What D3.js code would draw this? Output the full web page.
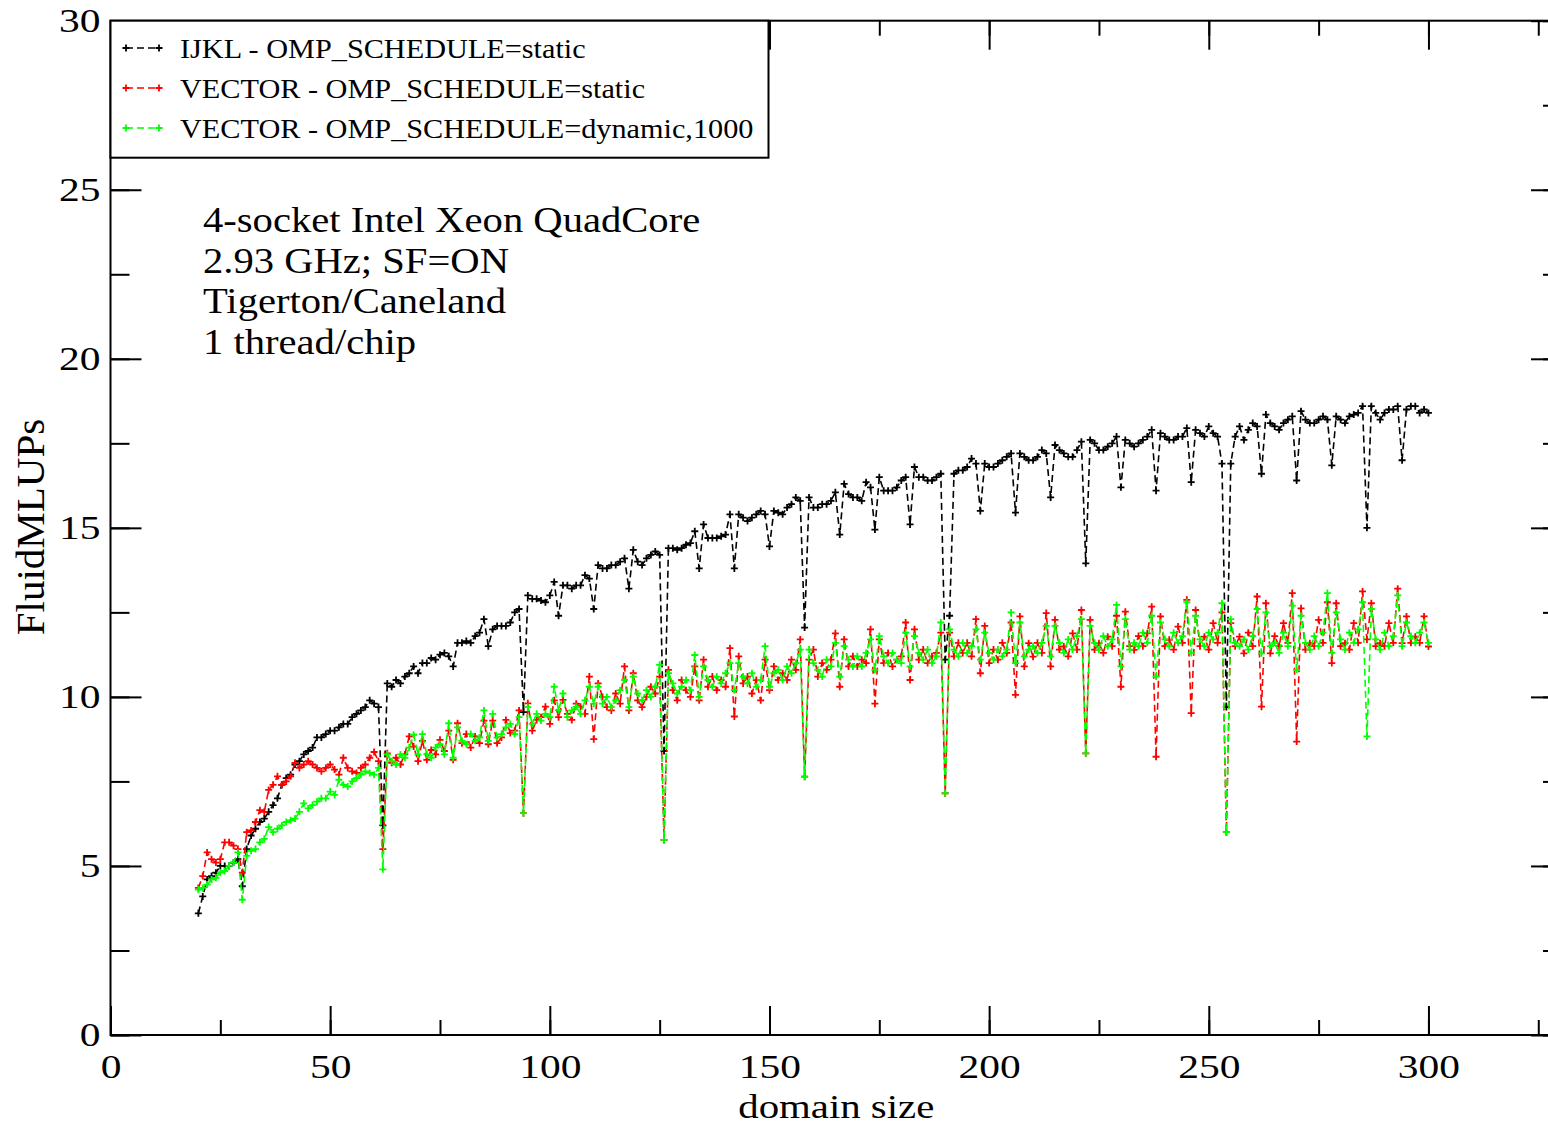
<!DOCTYPE html>
<html>
<head>
<meta charset="utf-8">
<script src="https://cdn.jsdelivr.net/npm/d3@7"></script>
<style>
  body { margin: 0; background: #fff; }
  svg { display: block; }
  text { font-family: "Liberation Serif", "Times New Roman", serif; fill: #000; }
</style>
</head>
<body>
<svg id="chart" width="1548" height="1126"></svg>
<script>
// domain sizes run over every integer from 20 to 300
const domainSizes = d3.range(20, 301);

const ijklStatic = [
  3.6, 4.1, 4.6, 4.7, 4.8, 5.0, 5.0, 5.0, 5.1, 5.2,
  4.4, 5.5, 5.9, 6.1, 6.3, 6.4, 6.6, 6.8, 7.0, 7.4,
  7.6, 7.7, 8.0, 8.1, 8.3, 8.4, 8.5, 8.8, 8.8, 8.9,
  9.0, 9.0, 9.1, 9.2, 9.2, 9.4, 9.5, 9.6, 9.7, 9.9,
  9.8, 9.7, 6.2, 10.4, 10.3, 10.5, 10.4, 10.6, 10.7, 10.9,
  10.7, 11.0, 11.0, 11.15, 11.1, 11.25, 11.3, 11.2, 10.9, 11.6,
  11.6, 11.65, 11.6, 11.8, 11.9, 12.3, 11.5, 12.0, 12.1, 12.1,
  12.1, 12.2, 12.5, 12.6, 9.55, 13.0, 12.9, 12.9, 12.85, 12.8,
  13.0, 13.4, 12.4, 13.3, 13.3, 13.2, 13.3, 13.3, 13.6, 13.5,
  12.6, 13.9, 13.8, 13.8, 13.9, 13.9, 14.0, 14.1, 13.2, 14.35,
  14.0, 13.9, 14.1, 14.2, 14.3, 14.2, 8.4, 14.4, 14.4, 14.35,
  14.4, 14.5, 14.55, 14.9, 13.8, 15.1, 14.7, 14.7, 14.7, 14.75,
  14.8, 15.4, 13.8, 15.4, 15.3, 15.2, 15.3, 15.4, 15.5, 15.4,
  14.45, 15.5, 15.45, 15.4, 15.6, 15.7, 15.9, 15.8, 12.05, 15.9,
  15.6, 15.6, 15.7, 15.7, 15.8, 16.05, 14.8, 16.3, 16.0, 15.9,
  15.9, 15.8, 16.35, 16.2, 14.95, 16.5, 16.1, 16.1, 16.1, 16.2,
  16.4, 16.5, 15.1, 16.8, 16.5, 16.5, 16.4, 16.4, 16.5, 16.6,
  11.1, 12.4, 16.6, 16.7, 16.7, 16.8, 17.05, 16.9, 15.5, 16.9,
  16.8, 16.8, 16.9, 17.0, 17.1, 17.2, 15.45, 17.2, 17.1, 17.0,
  17.0, 17.1, 17.3, 17.2, 15.9, 17.45, 17.3, 17.2, 17.1, 17.1,
  17.3, 17.55, 13.95, 17.6, 17.5, 17.3, 17.3, 17.4, 17.5, 17.7,
  16.2, 17.6, 17.5, 17.4, 17.5, 17.6, 17.7, 17.9, 16.1, 17.8,
  17.7, 17.6, 17.6, 17.7, 17.7, 17.95, 16.35, 17.9, 17.8, 17.7,
  18.0, 17.8, 17.7, 16.9, 9.7, 16.9, 17.7, 18.0, 17.6, 17.9,
  18.1, 18.0, 16.6, 18.35, 18.1, 18.0, 17.9, 18.1, 18.2, 18.3,
  16.4, 18.45, 18.2, 18.1, 18.1, 18.2, 18.3, 18.2, 16.85, 18.3,
  18.2, 18.1, 18.3, 18.35, 18.4, 18.6, 15.0, 18.6, 18.4, 18.2,
  18.4, 18.5, 18.5, 18.6, 17.0, 18.5, 18.6, 18.6, 18.4, 18.5,
  18.4
];

const vectorStatic = [
  4.35, 4.7, 5.4, 5.2, 5.1, 5.2, 5.7, 5.7, 5.6, 5.5,
  4.8, 6.0, 6.05, 6.3, 6.65, 6.6, 7.25, 7.4, 7.65, 7.4,
  7.5, 7.65, 8.05, 7.9, 8.0, 8.1, 8.0, 7.9, 7.8, 7.9,
  8.0, 7.85, 7.7, 8.2, 7.9, 7.8, 7.75, 7.9, 8.0, 8.2,
  8.37, 8.1, 5.5,
  8.33, 8.05, 8.2, 8.0, 8.3, 8.83, 8.53, 8.1,       // 63
  8.7, 8.14, 8.43, 8.3, 8.73, 8.4, 9.0, 8.14,
  9.22, 8.63, 8.9, 8.5, 8.83, 8.63, 9.3, 8.6,
  9.3, 8.63, 8.8, 9.32, 8.93, 9.0, 9.6, 6.56,
  9.81, 9.0, 9.32, 9.4, 9.71, 9.2, 9.9, 9.4,        // 95
  9.91, 9.5, 9.32, 9.8, 9.71, 9.5, 10.6, 8.75,
  10.4, 10.0, 9.7, 9.6, 10.1, 9.8, 10.9, 9.6,
  10.7, 9.9, 9.7, 10.0, 10.3, 10.1, 10.6, 5.77,
  10.8, 10.2, 9.9, 10.5, 10.2, 10.0, 10.9, 9.9,     // 127
  11.1, 10.3, 10.6, 10.2, 10.5, 10.3, 11.44, 9.42,
  11.2, 10.4, 10.6, 10.1, 10.5, 9.9, 11.1, 10.2,
  10.9, 10.5, 10.7, 10.5, 11.1, 10.8, 11.7, 7.64,
  11.1, 11.4, 10.6, 11.0, 10.8, 11.1, 11.88, 10.3,  // 159
  11.7, 10.9, 11.2, 10.9, 11.1, 11.0, 12.0, 9.8,
  11.7, 11.0, 11.3, 10.9, 11.1, 11.2, 12.2, 10.5,
  12.0, 11.1, 11.4, 11.0, 11.2, 11.3, 11.9, 7.15,
  11.9, 11.2, 11.6, 11.3, 11.6, 11.2, 12.3, 10.7,   // 191
  12.1, 11.0, 11.4, 11.1, 11.6, 11.3, 12.2, 10.06,
  12.38, 10.9, 11.59, 11.19, 11.6, 11.3, 12.48, 10.9,
  12.28, 11.4, 11.49, 11.2, 11.88, 11.4, 12.57, 8.33,
  12.28, 11.4, 11.59, 11.3, 11.78, 11.5, 12.4, 10.3, // 223
  12.52, 11.5, 11.39, 11.8, 11.5, 11.88, 12.67, 8.23,
  12.38, 11.5, 11.69, 11.4, 12.08, 11.6, 12.87, 9.52,
  12.57, 11.5, 11.78, 11.4, 12.18, 11.6, 12.5, 6.0,
  12.18, 11.5, 11.78, 11.29, 11.9, 11.5, 12.97, 9.71, // 255
  12.77, 11.29, 11.8, 11.5, 12.18, 11.6, 13.07, 8.68,
  12.62, 11.4, 11.59, 11.5, 12.28, 11.6, 12.8, 11.0,
  12.77, 11.5, 11.59, 11.4, 12.18, 11.6, 13.12, 11.7,
  12.77, 11.5, 11.59, 11.5, 12.18, 11.6, 13.2, 11.59, // 287
  12.38, 11.6, 11.78, 11.6, 12.38, 11.49
];

const vectorDynamic = [
  4.3, 4.35, 4.45, 4.6, 4.65, 4.8, 4.85, 5.0, 5.1, 5.4,
  4.0, 5.3, 5.45, 5.5, 5.7, 5.8, 6.15, 6.0, 6.1, 6.2,
  6.3, 6.35, 6.4, 6.6, 6.85, 6.7, 6.8, 6.9, 7.0, 7.0,
  7.2, 7.1, 7.55, 7.4, 7.35, 7.5, 7.6, 7.7, 7.8, 7.75,
  7.7, 7.9, 4.9,
  8.3, 8.1, 8.0, 8.3, 8.2, 8.5, 8.88, 8.3,          // 63
  8.9, 8.3, 8.2, 8.5, 8.6, 8.3, 9.22, 8.2,
  9.1, 8.7, 8.6, 8.9, 8.7, 8.8, 9.6, 8.7,
  9.5, 8.8, 8.9, 9.1, 9.2, 8.9, 9.4, 6.56,
  9.7, 9.2, 9.5, 9.3, 9.5, 9.4, 10.3, 9.6,          // 95
  10.1, 9.4, 9.6, 9.71, 9.5, 9.9, 10.3, 9.8,
  10.3, 9.8, 10.0, 9.7, 9.9, 10.2, 10.5, 9.7,
  10.6, 10.1, 9.9, 10.2, 10.0, 10.3, 10.95, 5.77,
  10.7, 10.4, 10.1, 10.3, 10.5, 10.2, 11.24, 10.0,  // 127
  10.9, 10.5, 10.3, 10.6, 10.4, 10.7, 11.0, 10.2,
  11.0, 10.6, 10.4, 10.7, 10.3, 10.5, 11.5, 10.3,
  10.7, 10.8, 10.5, 10.9, 10.7, 11.0, 11.4, 7.64,
  11.4, 11.0, 10.8, 10.6, 11.1, 10.9, 11.6, 10.6,   // 159
  11.5, 11.1, 10.9, 11.2, 10.9, 11.3, 11.7, 10.8,
  11.8, 11.2, 11.0, 11.3, 11.1, 11.0, 11.9, 10.9,
  11.8, 11.3, 11.1, 11.4, 11.0, 11.2, 12.2, 7.15,
  12.0, 11.4, 11.2, 11.6, 11.3, 11.5, 12.0, 11.1,   // 191
  11.9, 11.3, 11.1, 11.4, 11.2, 11.4, 12.5, 11.0,
  12.2, 11.2, 11.4, 11.5, 11.3, 11.6, 12.1, 11.2,
  12.1, 11.6, 11.3, 11.7, 11.4, 11.8, 12.3, 8.33,
  12.1, 11.6, 11.4, 11.8, 11.5, 11.7, 12.72, 10.9,  // 223
  12.3, 11.4, 11.6, 11.5, 11.9, 11.6, 12.4, 10.6,
  12.2, 11.7, 11.5, 11.9, 11.6, 11.8, 12.8, 11.3,
  12.4, 11.7, 11.5, 11.9, 11.7, 11.9, 12.77, 6.0,
  12.3, 11.6, 11.5, 11.7, 11.4, 11.8, 12.6, 11.29,  // 255
  12.5, 11.5, 11.6, 11.3, 11.9, 11.5, 12.7, 10.8,
  12.4, 11.6, 11.4, 11.8, 11.5, 11.9, 13.07, 11.3,
  12.5, 11.7, 11.4, 11.9, 11.6, 12.0, 12.8, 8.83,
  12.6, 11.7, 11.4, 11.9, 11.5, 11.8, 13.0, 11.5,   // 287
  12.2, 11.8, 11.6, 11.9, 12.2, 11.6
];

const seriesNames = [
  "IJKL - OMP_SCHEDULE=static",
  "VECTOR - OMP_SCHEDULE=static",
  "VECTOR - OMP_SCHEDULE=dynamic,1000"
];
const seriesColors = ["#000000", "#ff0000", "#00ff00"];
const xTickLabels = [0, 50, 100, 150, 200, 250, 300];
const yTickLabels = [0, 5, 10, 15, 20, 25, 30];
const infoLines = [
  "4-socket Intel Xeon QuadCore",
  "2.93 GHz; SF=ON",
  "Tigerton/Caneland",
  "1 thread/chip"
];

const svg = d3.select("#chart");
const plotLeft = 110.5, plotRight = 1562, plotTop = 20.7, plotBottom = 1035;

const x = d3.scaleLinear().domain([0, 330.4]).range([plotLeft, plotRight]);
const y = d3.scaleLinear().domain([0, 30]).range([plotBottom, plotTop]);

// the original picture is wider than tall, so text is pulled out sideways
function widen(sel, k) {
  sel.each(function () {
    const w = this.getComputedTextLength();
    if (w > 0) d3.select(this).attr("textLength", w * k).attr("lengthAdjust", "spacingAndGlyphs");
  });
}

const series = [ijklStatic, vectorStatic, vectorDynamic].map((vals, i) => ({
  name: seriesNames[i],
  color: seriesColors[i],
  points: domainSizes.slice(0, vals.length).map((d, j) => ({ x: d, y: vals[j] }))
}));

// data: line then "+" symbols for each set
const line = d3.line().x((d) => x(d.x)).y((d) => y(d.y));
const plus = (px, py, r) => "M" + (px - r) + "," + py + "h" + 2 * r + "M" + px + "," + (py - r) + "v" + 2 * r;

series.forEach((s) => {
  svg.append("path").datum(s.points)
    .attr("fill", "none").attr("stroke", s.color).attr("stroke-width", 1.6)
    .attr("stroke-dasharray", "7,4").attr("d", line);
  svg.append("path")
    .attr("fill", "none").attr("stroke", s.color).attr("stroke-width", 1.8)
    .attr("d", s.points.map((p) => plus(x(p.x), y(p.y), 3.5)).join(""));
});

// axes with inward ticks on all four sides
function styleAxis(g) {
  g.select(".domain").remove();
  g.selectAll(".tick line").attr("stroke", "#000").attr("stroke-width", 2);
  g.selectAll("text").style("font-family", '"Liberation Serif", serif').style("font-size", "34px").attr("fill", "#000");
}
const xMinor = d3.range(0, 331, 25), xMajor = d3.range(0, 331, 50);
const yMinor = d3.range(0, 30.1, 2.5), yMajor = d3.range(0, 30.1, 5);

svg.append("g").attr("transform", "translate(0," + plotBottom + ")")
  .call(d3.axisBottom(x).tickValues(xMinor).tickSize(-15).tickFormat("")).call(styleAxis);
svg.append("g").attr("transform", "translate(0," + plotBottom + ")")
  .call(d3.axisBottom(x).tickValues(xMajor).tickSize(-29).tickPadding(19)
    .tickFormat((d) => (xTickLabels.includes(d) ? d : ""))).call(styleAxis);
svg.append("g").attr("transform", "translate(0," + plotTop + ")")
  .call(d3.axisTop(x).tickValues(xMinor).tickSize(-15).tickFormat("")).call(styleAxis);
svg.append("g").attr("transform", "translate(0," + plotTop + ")")
  .call(d3.axisTop(x).tickValues(xMajor).tickSize(-29).tickFormat("")).call(styleAxis);

svg.append("g").attr("transform", "translate(" + plotLeft + ",0)")
  .call(d3.axisLeft(y).tickValues(yMinor).tickSize(-19).tickFormat("")).call(styleAxis);
svg.append("g").attr("transform", "translate(" + plotLeft + ",0)")
  .call(d3.axisLeft(y).tickValues(yMajor).tickSize(-31).tickPadding(10)
    .tickFormat((d) => (yTickLabels.includes(d) ? d : ""))).call(styleAxis);
svg.append("g").attr("transform", "translate(" + plotRight + ",0)")
  .call(d3.axisRight(y).tickValues(yMinor).tickSize(-19).tickFormat("")).call(styleAxis);
svg.append("g").attr("transform", "translate(" + plotRight + ",0)")
  .call(d3.axisRight(y).tickValues(yMajor).tickSize(-31).tickFormat("")).call(styleAxis);

svg.selectAll(".tick text").call(widen, 1.22);

svg.append("rect")
  .attr("x", plotLeft).attr("y", plotTop).attr("width", plotRight - plotLeft).attr("height", plotBottom - plotTop)
  .attr("fill", "none").attr("stroke", "#000").attr("stroke-width", 2);

// axis titles
svg.append("text")
  .attr("x", (plotLeft + plotRight) / 2).attr("y", 1118)
  .attr("text-anchor", "middle").style("font-size", "34px")
  .text("domain size").call(widen, 1.2);
svg.append("text")
  .attr("transform", "translate(44,527) rotate(-90)")
  .attr("text-anchor", "middle").style("font-size", "41px")
  .text("FluidMLUPs");

// annotation
svg.append("g").selectAll("text").data(infoLines).enter().append("text")
  .attr("x", 203).attr("y", (d, i) => 232 + i * 40.5)
  .style("font-size", "35px").text((d) => d).call(widen, 1.16);

// legend
const legend = svg.append("g").attr("class", "legend");
legend.append("rect")
  .attr("x", plotLeft).attr("y", plotTop).attr("width", 658).attr("height", 137)
  .attr("fill", "#fff").attr("stroke", "#000").attr("stroke-width", 2);

const entries = legend.selectAll(".legendEntry").data(series).enter().append("g")
  .attr("class", "legendEntry")
  .attr("transform", (d, i) => "translate(0," + (48 + i * 40) + ")");

entries.append("line")
  .attr("x1", 126).attr("x2", 159).attr("y1", 0).attr("y2", 0)
  .attr("stroke", (d) => d.color).attr("stroke-width", 1.6).attr("stroke-dasharray", "7,4");
entries.append("path")
  .attr("fill", "none").attr("stroke", (d) => d.color).attr("stroke-width", 1.8)
  .attr("d", plus(126, 0, 3.5) + plus(159, 0, 3.5));
entries.append("text")
  .attr("x", 180).attr("y", 10)
  .style("font-size", "28px")
  .text((d) => d.name).call(widen, 1.08);
</script>
</body>
</html>
